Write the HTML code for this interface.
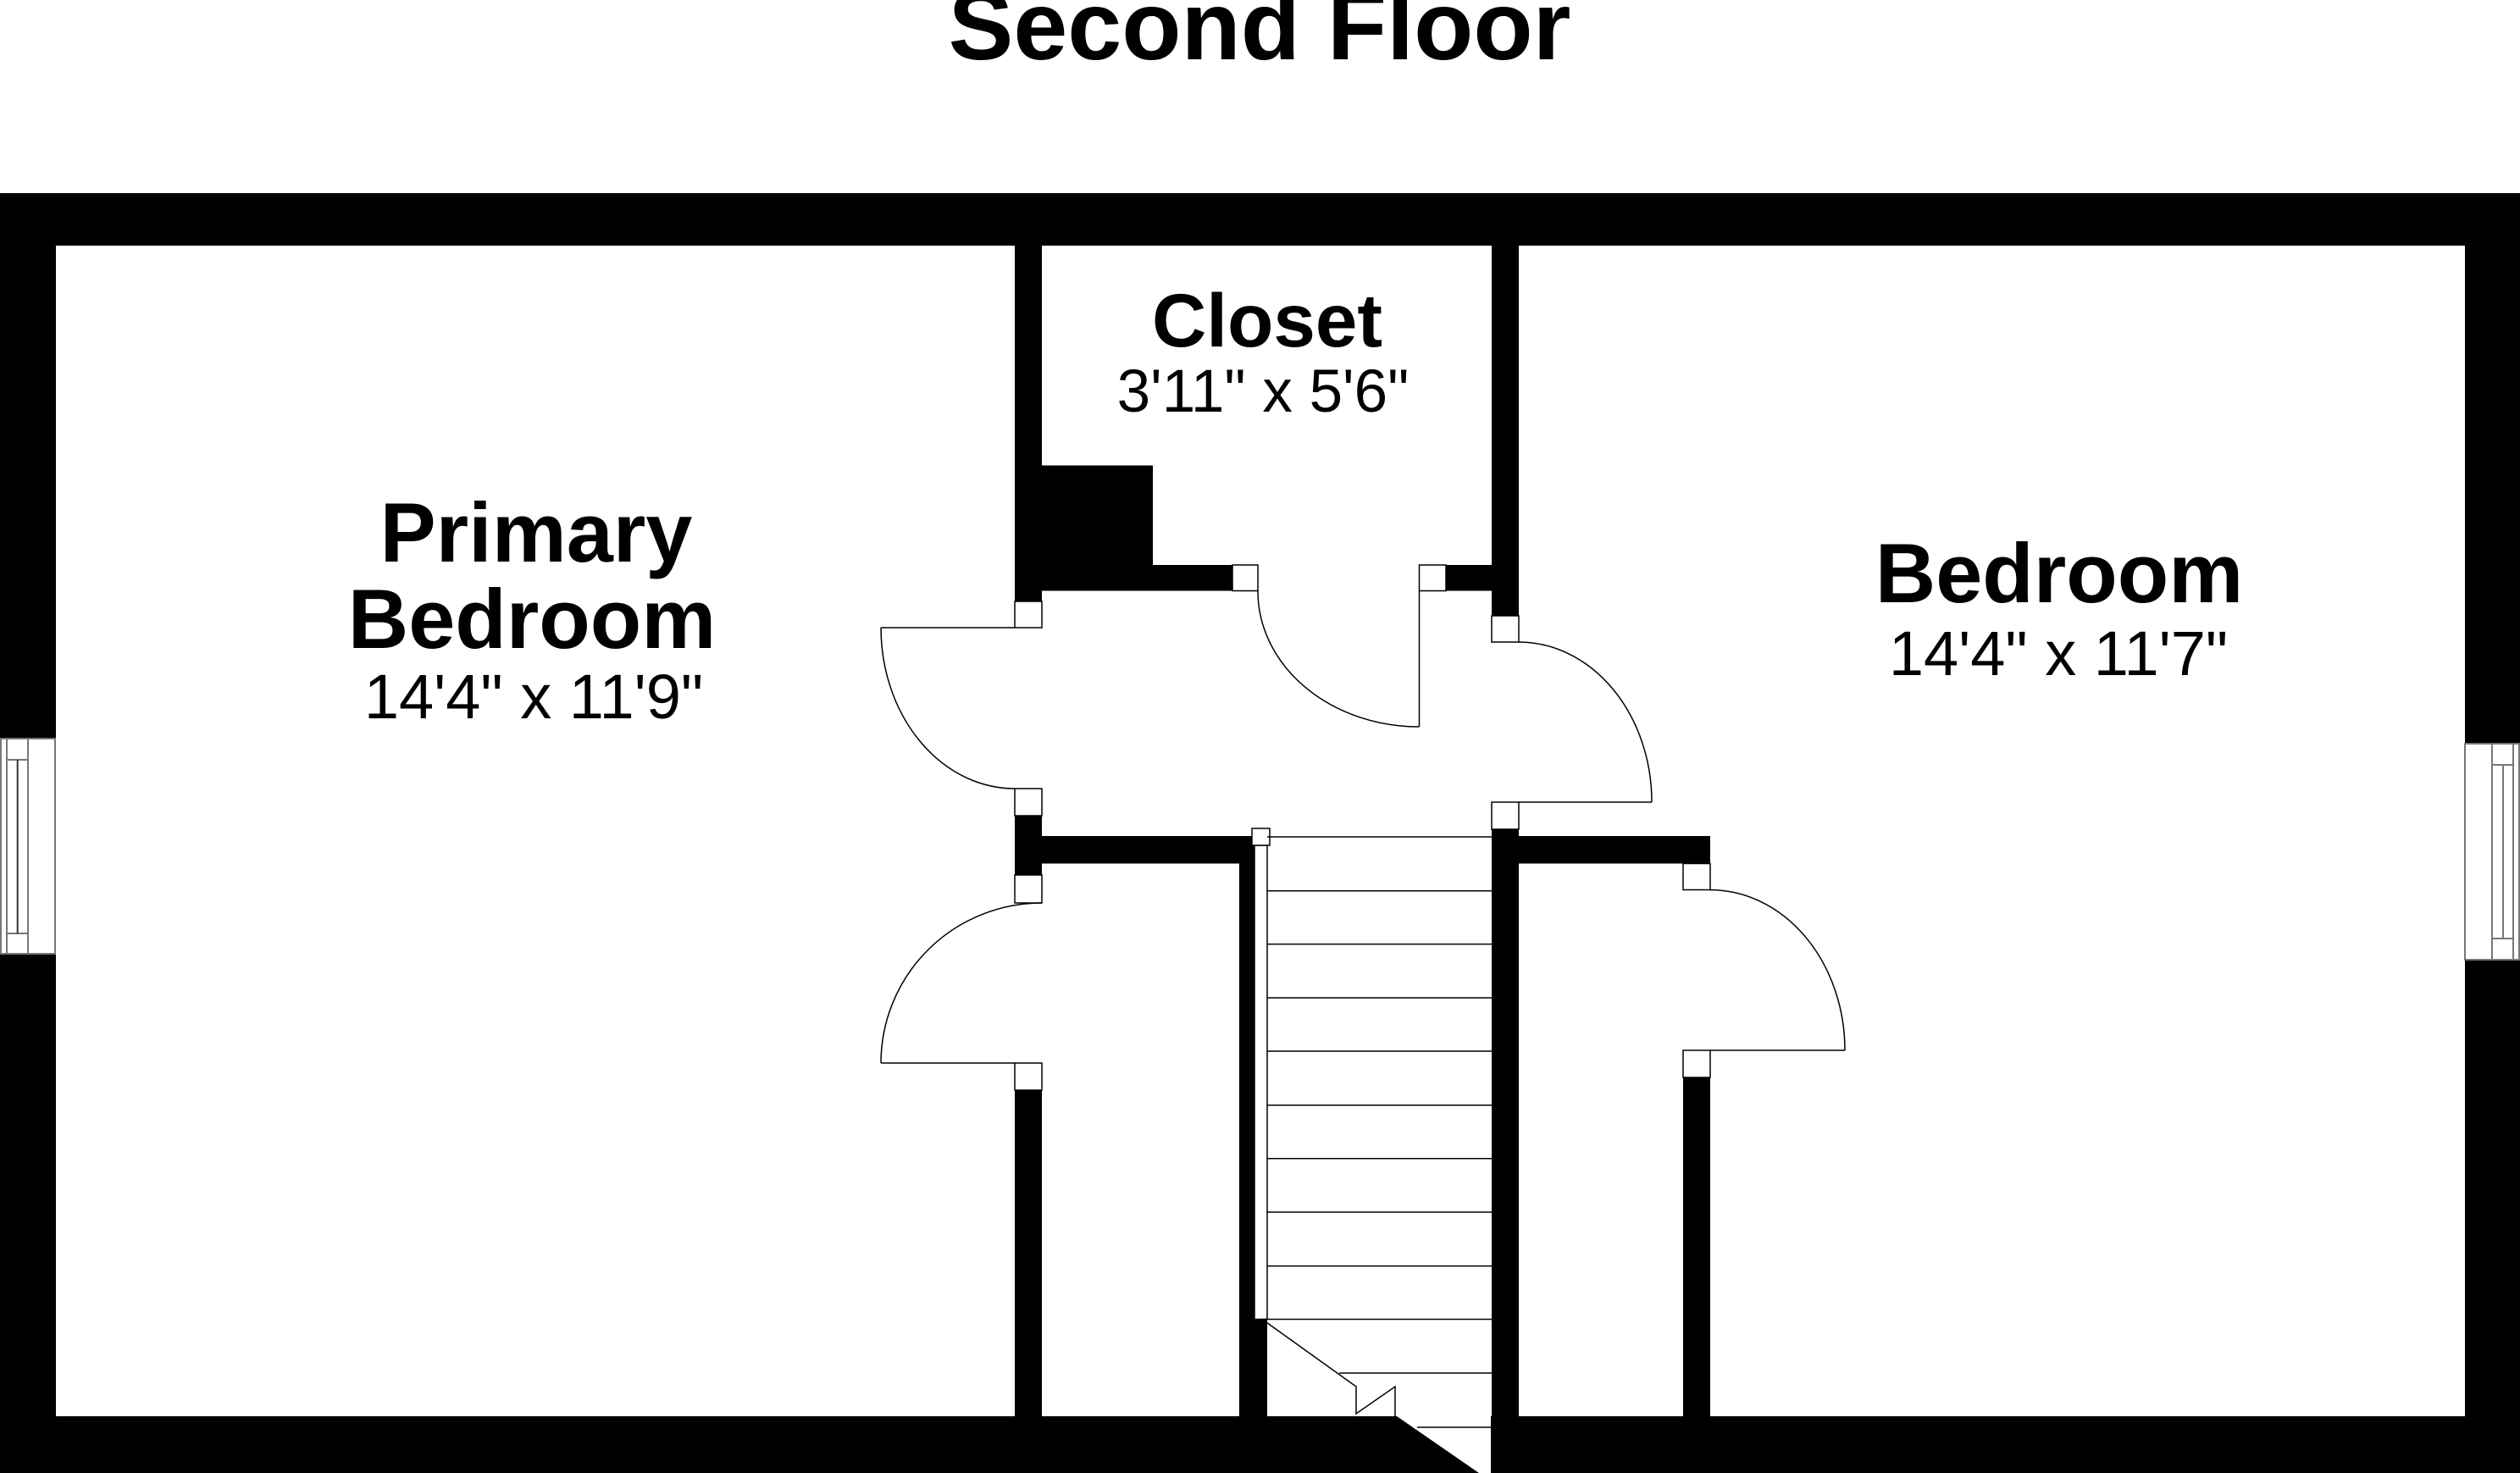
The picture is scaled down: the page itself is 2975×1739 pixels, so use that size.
<!DOCTYPE html>
<html><head><meta charset="utf-8"><style>
html,body{margin:0;padding:0;background:#fff;}
svg{display:block;}
</style></head><body>
<svg width="2975" height="1739" viewBox="0 0 2975 1739" xmlns="http://www.w3.org/2000/svg">
<rect x="0" y="0" width="2975" height="1739" fill="#fff"/>
<g fill="#000">
<!-- outer walls -->
<rect x="0" y="228" width="2975" height="62"/>
<rect x="0" y="228" width="66" height="644"/>
<rect x="0" y="1126" width="66" height="613"/>
<rect x="2910" y="228" width="65" height="650"/>
<rect x="2910" y="1133" width="65" height="606"/>
<polygon points="0,1672 1649,1672 1746,1739 0,1739"/>
<rect x="1760" y="1672" width="1215" height="67"/>
<!-- left interior wall -->
<rect x="1198" y="290" width="32" height="420"/>
<rect x="1198" y="963" width="32" height="70"/>
<rect x="1198" y="1287" width="32" height="385"/>
<!-- closet block -->
<rect x="1230" y="549.5" width="131" height="148"/>
<rect x="1361" y="667" width="94" height="30.5"/>
<rect x="1707" y="667" width="54" height="30.5"/>
<!-- closet right wall -->
<rect x="1761" y="290" width="32" height="437"/>
<rect x="1761" y="979" width="32" height="693"/>
<!-- horizontal walls -->
<rect x="1230" y="987" width="233" height="32.5"/>
<rect x="1463" y="987" width="18" height="685"/>
<rect x="1463" y="1557" width="33" height="115"/>
<rect x="1793" y="987" width="226" height="32.5"/>
<rect x="1987" y="1272" width="32" height="400"/>
</g>
<!-- jambs -->
<g fill="#fff" stroke="#000" stroke-width="1.5">
<rect x="1198" y="710" width="32" height="31"/>
<rect x="1198" y="931" width="32" height="32"/>
<rect x="1198" y="1033" width="32" height="33"/>
<rect x="1198" y="1255" width="32" height="32"/>
<rect x="1455" y="667" width="30" height="30.5"/>
<rect x="1675.5" y="667" width="31.5" height="30.5"/>
<rect x="1761" y="727" width="32" height="31"/>
<rect x="1761" y="947" width="32" height="32"/>
<rect x="1987" y="1019.5" width="32" height="31"/>
<rect x="1987" y="1240" width="32" height="32"/>
<rect x="1481" y="998" width="15" height="559.5"/>
<rect x="1478" y="978" width="21" height="20"/>
</g>
<!-- windows -->
<g fill="#fff" stroke="#777" stroke-width="2">
<rect x="1" y="872" width="64" height="254"/>
<line x1="8" y1="872" x2="8" y2="1126"/>
<line x1="33" y1="872" x2="33" y2="1126"/>
<line x1="8" y1="897" x2="33" y2="897"/>
<line x1="8" y1="1102" x2="33" y2="1102"/>
<line x1="20.7" y1="897" x2="20.7" y2="1102" stroke="#333"/>
<rect x="2910" y="878" width="64" height="255"/>
<line x1="2942" y1="878" x2="2942" y2="1133"/>
<line x1="2967" y1="878" x2="2967" y2="1133"/>
<line x1="2942" y1="903" x2="2967" y2="903"/>
<line x1="2942" y1="1108" x2="2967" y2="1108"/>
<line x1="2955" y1="903" x2="2955" y2="1108"/>
</g>
<!-- doors and stairs -->
<g fill="none" stroke="#000" stroke-width="1.5">
<path d="M1040 741 L1198 741 M1040 741 A158 190 0 0 0 1198 931"/>
<path d="M1675.5 697.5 L1675.5 858 M1485 697.5 A190 160 0 0 0 1675.5 858"/>
<path d="M1793 947 L1950 947 M1793 758 A157 189 0 0 1 1950 947"/>
<path d="M1040 1255 L1198 1255 M1230 1066 A190 189 0 0 0 1040 1255"/>
<path d="M2019 1240 L2178 1240 M2019 1050.6 A159 189.4 0 0 1 2178 1240"/>
<line x1="1496" y1="988" x2="1761" y2="988"/>
<line x1="1496" y1="1051.7" x2="1761" y2="1051.7"/>
<line x1="1496" y1="1114.6" x2="1761" y2="1114.6"/>
<line x1="1496" y1="1178" x2="1761" y2="1178"/>
<line x1="1496" y1="1241" x2="1761" y2="1241"/>
<line x1="1496" y1="1304.8" x2="1761" y2="1304.8"/>
<line x1="1496" y1="1367.7" x2="1761" y2="1367.7"/>
<line x1="1496" y1="1431" x2="1761" y2="1431"/>
<line x1="1496" y1="1494.6" x2="1761" y2="1494.6"/>
<line x1="1490" y1="1557.5" x2="1761" y2="1557.5"/>
<line x1="1581" y1="1621" x2="1761" y2="1621"/>
<line x1="1673" y1="1685" x2="1761" y2="1685"/>
<polyline points="1490,1557.5 1601,1637 1601,1669 1647,1637 1647,1672"/>
</g>
<!-- text -->
<g font-family="'Liberation Sans', Arial, sans-serif" fill="#000" text-anchor="middle">
<text x="1487" y="70" font-size="115" font-weight="bold">Second Floor</text>
<text x="1496" y="409" font-size="89" font-weight="bold">Closet</text>
<text x="1491" y="486" font-size="71">3'11" x 5'6"</text>
<text x="633" y="663" font-size="99" font-weight="bold">Primary</text>
<text x="628" y="765" font-size="99" font-weight="bold">Bedroom</text>
<text x="630" y="848" font-size="74">14'4" x 11'9"</text>
<text x="2431" y="711" font-size="99" font-weight="bold">Bedroom</text>
<text x="2430" y="797" font-size="74">14'4" x 11'7"</text>
</g>
</svg>
</body></html>
